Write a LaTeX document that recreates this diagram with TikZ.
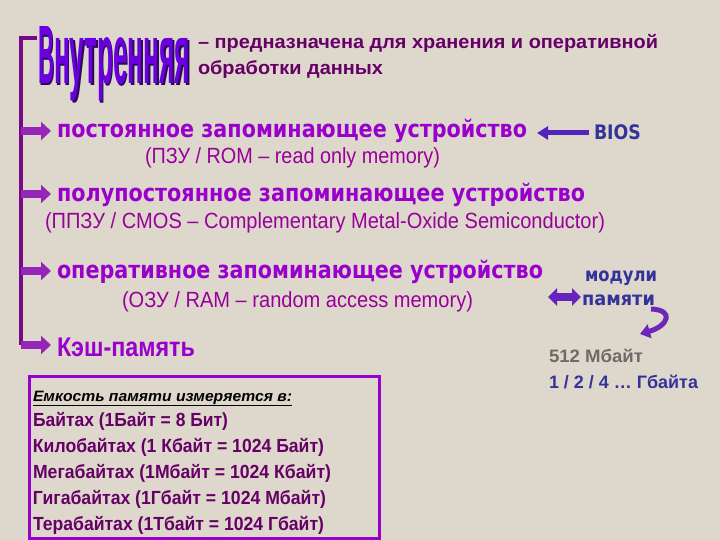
\documentclass[tikz,border=0pt]{standalone}
\usepackage{fontspec}
\usepackage{graphicx}
\setmainfont{Liberation Sans}
\newfontfamily\dv{DejaVu Sans}
\usetikzlibrary{arrows.meta}
\definecolor{bgc}{HTML}{DED8CC}
\definecolor{brk}{HTML}{760A86}
\definecolor{arrc}{HTML}{9626B8}
\definecolor{headc}{HTML}{9900CC}
\definecolor{subc}{HTML}{990099}
\definecolor{defc}{HTML}{660066}
\definecolor{bluec}{HTML}{333399}
\definecolor{greyc}{HTML}{6E6A66}
\definecolor{titc}{HTML}{6A00E0}
\definecolor{titsh}{HTML}{2A0A55}
\definecolor{boxc}{HTML}{9900CC}
\definecolor{blarr}{HTML}{5522BB}
\newcommand\fitw[2]{\resizebox{#1}{\height}{#2}}
\begin{document}
\begin{tikzpicture}[x=1pt,y=-1pt,
  txt/.style={inner sep=0pt, outer sep=0pt, anchor=base west},
  head/.style={txt, text=headc, font=\dv\bfseries\fontsize{24}{28}\selectfont},
  sub/.style={txt, text=subc, font=\fontsize{22}{26}\selectfont},
  boxtxt/.style={txt, text=defc, font=\bfseries\fontsize{19}{22}\selectfont},
  barrow/.style={draw=arrc, line width=8pt, -{Triangle[length=10pt,width=18pt]}},
  bluearrow/.style={draw=blarr, line width=5pt, -{Triangle[length=11pt,width=13pt]}},
  dblarrow/.style={draw=blarr!70!arrc, line width=8pt, {Triangle[length=9pt,width=17pt]}-{Triangle[length=9pt,width=17pt]}}
]
\fill[bgc] (0,0) rectangle (720,540);
\useasboundingbox (0,0) rectangle (720,540);

% title word with shadow
\node[txt, text=titsh, font=\bfseries] (tBs) at (39.5,85.5) {\resizebox{16pt}{57pt}{В}};
\node[txt, text=titsh, font=\bfseries] (tRs) at (55.5,85.5) {\resizebox{136pt}{46pt}{нутренняя}};
\node[txt, text=titc, font=\bfseries] (tB) at (38,84) {\resizebox{16pt}{57pt}{В}};
\node[txt, text=titc, font=\bfseries] (tR) at (54,84) {\resizebox{136pt}{46pt}{нутренняя}};

\node[txt, text=defc, font=\bfseries\fontsize{19}{22}\selectfont] (def1) at (198,49) {\fitw{460pt}{– предназначена для хранения и оперативной}};
\node[txt, text=defc, font=\bfseries\fontsize{19}{22}\selectfont] (def2) at (198,75) {\fitw{185pt}{обработки данных}};

% bracket
\coordinate (bt) at (37,38);
\coordinate (bc) at (21,38);
\coordinate (bb) at (21,345);
\draw[brk, line width=4pt] (bt) -- (bc) -- (bb);

% headings
\node[head] (h1) at (57,138) {\fitw{470pt}{постоянное запоминающее устройство}};
\node[sub] (s1) at (145,164) {\fitw{295pt}{(ПЗУ / ROM – read only memory)}};
\node[head] (h2) at (57,202) {\fitw{528pt}{полупостоянное запоминающее устройство}};
\node[sub] (s2) at (45,229) {\fitw{560pt}{(ППЗУ / CMOS – Complementary Metal-Oxide Semiconductor)}};
\node[head] (h3) at (57,278) {\fitw{486pt}{оперативное запоминающее устройство}};
\node[sub] (s3) at (122,307) {\fitw{351pt}{(ОЗУ / RAM – random access memory)}};
\node[txt, text=headc, font=\bfseries\fontsize{27}{30}\selectfont] (h4) at (57,356) {\fitw{138pt}{Кэш-память}};

\coordinate (a1) at (51,131);
\coordinate (a2) at (51,194);
\coordinate (a3) at (51,271);
\coordinate (a4) at (51,345);
\draw[barrow] (bc |- a1) -- (a1);
\draw[barrow] (bc |- a2) -- (a2);
\draw[barrow] (bc |- a3) -- (a3);
\draw[barrow] (bb) -- (a4);

% BIOS
\node[txt, text=bluec, font=\dv\bfseries\fontsize{20}{24}\selectfont] (bios) at (594,140) {\fitw{47pt}{BIOS}};
\coordinate (biostip) at (537,133);
\draw[bluearrow] ([xshift=-5pt]bios.west |- biostip) -- (biostip);

% modules
\node[txt, text=bluec, font=\dv\bfseries\fontsize{19}{22}\selectfont] (mod1) at (585,281) {\fitw{72pt}{модули}};
\node[txt, text=bluec, font=\dv\bfseries\fontsize{19}{22}\selectfont] (mod2) at (582,305) {\fitw{73pt}{памяти}};
\coordinate (d1) at (548,297);
\coordinate (d2) at (581,297);
\draw[dblarrow] (d1) -- (d2);
\coordinate (c1) at (651,309);
\coordinate (c2) at (640,334);
\draw[draw=blarr!60!arrc, line width=5pt, -{Triangle[length=10pt,width=14pt]}] (c1) .. controls (675,310) and (668,326) .. (c2);

\node[txt, text=greyc, font=\bfseries\fontsize{18}{20}\selectfont] (m512) at (549,362) {\fitw{94pt}{512 Мбайт}};
\node[txt, text=bluec, font=\bfseries\fontsize{18}{20}\selectfont] (gb) at (549,388) {\fitw{149pt}{1 / 2 / 4 … Гбайта}};

% box
\draw[boxc, line width=3pt] (29,376) rectangle (379,538);
\node[txt, text=black, font=\bfseries\itshape\fontsize{15}{17}\selectfont] (e0) at (33,401) {\fitw{259pt}{\underline{Емкость памяти измеряется в:}}};
\node[boxtxt] (b1) at (33,426) {\fitw{195pt}{Байтах (1Байт = 8 Бит)}};
\node[boxtxt] (b2) at (33,452) {\fitw{291pt}{Килобайтах (1 Кбайт = 1024 Байт)}};
\node[boxtxt] (b3) at (33,478) {\fitw{298pt}{Мегабайтах (1Мбайт = 1024 Кбайт)}};
\node[boxtxt] (b4) at (33,504) {\fitw{293pt}{Гигабайтах (1Гбайт = 1024 Мбайт)}};
\node[boxtxt] (b5) at (33,530) {\fitw{291pt}{Терабайтах (1Тбайт = 1024 Гбайт)}};
\end{tikzpicture}
\end{document}
